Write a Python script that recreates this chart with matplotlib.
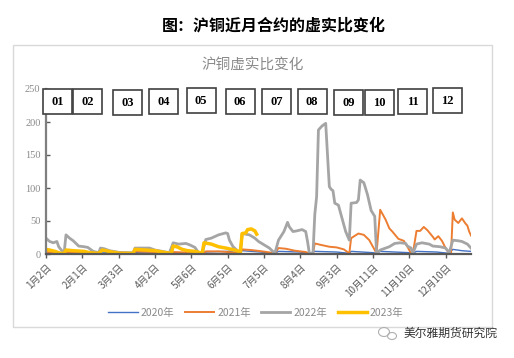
import matplotlib.pyplot as plt
from matplotlib.patches import Rectangle, Ellipse

plt.rcParams['font.family'] = ['Noto Sans CJK SC', 'DejaVu Sans']

# trading-day index (0 = 1月2日) and values
days_2020 = [0, 10, 11, 29, 30, 40, 48, 49, 68, 70, 86, 87, 100, 106, 108, 118, 126, 128,
             140, 145, 148, 160, 167, 168, 180, 182, 184, 200, 202, 204, 215, 222, 224, 229, 234]
vals_2020 = [1, 1, 2, 1, 3, 2, 1, 2, 1, 2, 1, 3, 4, 5, 5, 3, 1, 4,
             3, 1, 4, 3, 1, 4, 2, 1, 4, 2, 1, 4, 3, 1, 7, 5, 4]

days_2021 = [0, 5, 10, 11, 20, 29, 30, 40, 48, 49, 60, 69, 70, 80, 87, 88, 95, 100, 107,
             108, 113, 119, 124, 126, 128, 132, 137, 143, 145, 147, 148, 151, 156, 160, 164,
             166, 167, 168, 172, 175, 178, 180, 182, 184, 187, 189, 191, 194, 197, 199, 201,
             202, 204, 206, 208, 210, 213, 214, 216, 218, 220, 222, 223, 224, 225, 227, 229,
             231, 232, 233, 234]
vals_2021 = [3, 2, 1, 3, 3, 1, 5, 3, 1, 4, 3, 1, 3, 2, 1, 4, 4, 3, 1,
             7, 6, 4, 2, 1, 9, 8, 5, 3, 1, 1, 16, 14, 11, 10, 7,
             3, 1, 24, 31, 29, 21, 11, 1, 67, 52, 39, 33, 23, 20, 11, 1,
             1, 35, 35, 41, 36, 26, 22, 27, 20, 9, 1, 1, 63, 52, 47, 54,
             46, 43, 34, 28]

days_2022 = [0, 2, 4, 6, 7, 9, 10, 11, 13, 15, 18, 21, 23, 25, 26, 29, 30, 32, 35, 37, 41,
             48, 49, 57, 60, 64, 68, 70, 73, 77, 79, 82, 84, 86, 88, 91, 95, 99, 100, 101,
             103, 105, 107, 108, 112, 115, 117, 120, 123, 126, 128, 131, 133, 134, 136, 138,
             141, 143, 144, 145, 147, 148, 149, 150, 152, 154, 156, 157, 158, 159, 161, 162,
             165, 167, 168, 171, 172, 173, 175, 177, 179, 181, 182, 184, 189, 192, 195, 198,
             199, 201, 202, 204, 207, 211, 213, 217, 220, 222, 224, 227, 229, 232, 234]
vals_2022 = [24, 19, 17, 19, 11, 4, 2, 29, 24, 20, 12, 11, 10, 6, 4, 2, 9, 8, 5, 4, 2,
             2, 9, 9, 6, 4, 2, 17, 15, 16, 14, 10, 2, 1, 22, 24, 29, 32, 31, 21,
             11, 6, 1, 31, 29, 24, 19, 14, 9, 1, 21, 34, 48, 41, 34, 35,
             37, 34, 19, 1, 1, 60, 87, 188, 194, 198, 102, 98, 96, 77, 74, 64,
             34, 21, 77, 78, 82, 112, 108, 90, 66, 57, 1, 6, 11, 16, 17, 16,
             12, 9, 1, 15, 17, 15, 12, 11, 9, 2, 21, 20, 19, 15, 9]

days_2023 = [0, 2, 5, 8, 10, 11, 15, 21, 24, 28, 29, 31, 33, 36, 41, 48, 49, 55, 60, 66,
             69, 70, 72, 75, 78, 82, 85, 86, 87, 91, 95, 99, 104, 106, 107, 108, 110, 111,
             113, 115, 116]
vals_2023 = [7, 6, 4, 1, 1, 6, 5, 4, 2, 1, 1, 6, 5, 3, 1, 1, 7, 6, 5, 2,
             1, 12, 11, 7, 5, 4, 2, 1, 17, 15, 11, 9, 6, 4, 3, 31, 32, 37,
             38, 35, 30]

tick_days = [0, 20, 40, 60, 80, 100, 120, 140, 160, 180, 200, 220]
tick_labels = ['1月2日', '2月1日', '3月3日', '4月2日', '5月6日', '6月5日', '7月5日',
               '8月4日', '9月3日', '10月11日', '11月10日', '12月10日']
month_tags = ['01', '02', '03', '04', '05', '06', '07', '08', '09', '10', '11', '12']

fig = plt.figure(figsize=(5.14, 3.58), dpi=100)
W, H = 514, 358

def fx(px):
    return px / W

def fy(py):
    return 1 - py / H

# outer frame of the chart
fig.patches.append(Rectangle((fx(13), fy(327)), fx(492) - fx(13), fy(45) - fy(327),
                             transform=fig.transFigure, fill=False, ec='#d9d9d9', lw=1))

fig.text(fx(274), fy(25), '图：沪铜近月合约的虚实比变化', ha='center', va='center',
         fontsize=11.5, fontweight='bold', color='black')
fig.text(fx(253), fy(66), '沪铜虚实比变化', ha='center', va='center',
         fontsize=10.5, color='#8a8a8a')

ax = fig.add_axes([fx(46), fy(254), fx(471) - fx(46), fy(89) - fy(254)])
ax.plot(days_2020, vals_2020, color='#4472C4', lw=1.0, label='2020年')
ax.plot(days_2021, vals_2021, color='#ED7D31', lw=1.4, label='2021年')
ax.plot(days_2022, vals_2022, color='#A5A5A5', lw=2.0, label='2022年')
ax.plot(days_2023, vals_2023, color='#FFC000', lw=2.5, label='2023年')

ax.set_xlim(0, 234)
ax.set_ylim(0, 250)
ax.set_yticks([0, 50, 100, 150, 200, 250])
ax.set_xticks(tick_days)
ax.set_xticklabels(tick_labels, rotation=45, ha='right', va='top',
                   rotation_mode='anchor', fontsize=7, color='#8a8a8a')
for lab in ax.get_yticklabels():
    lab.set_family(['Liberation Serif'])
ax.tick_params(axis='y', direction='in', length=3, width=1, colors='#595959',
               labelsize=7.5, labelcolor='#8a8a8a', pad=4)
ax.tick_params(axis='x', direction='out', length=3, width=1, colors='#595959', pad=3)
for s in ['top', 'right']:
    ax.spines[s].set_visible(False)
ax.spines['left'].set_color('#7f7f7f')
ax.spines['left'].set_linewidth(1.6)
ax.spines['bottom'].set_color('#595959')
ax.spines['bottom'].set_linewidth(1.6)
ax.patch.set_alpha(0)

leg = fig.legend(loc='center', bbox_to_anchor=(fx(256), fy(313)), ncol=4, frameon=False,
                 fontsize=7.5, handlelength=2.8, columnspacing=1.0, handletextpad=0.3)
for t in leg.get_texts():
    t.set_color('#8a8a8a')

# contract-month tags
tag_cx = [57.5, 87.5, 127.5, 163.5, 201, 240, 276.5, 312, 348.5, 379.5, 412.5, 447.5]
tag_cy = [102, 102, 102.5, 102, 100.5, 102, 102, 102, 102.5, 102.5, 102, 100.5]
for tag, cx, cy in zip(month_tags, tag_cx, tag_cy):
    fig.patches.append(Rectangle((fx(cx - 14.5), fy(cy + 12.5)), 29 / W, 25 / H,
                                 transform=fig.transFigure, fc='white', ec='#404040', lw=1.2))
    fig.text(fx(cx), fy(cy), tag, ha='center', va='center', fontsize=9,
             fontweight='bold', family=['Liberation Serif'], color='black')

# watermark
fig.patches.append(Ellipse((fx(384), fy(332)), 11 / W, 9 / H, transform=fig.transFigure,
                           fill=False, ec='#b0b0b0', lw=0.8))
fig.patches.append(Ellipse((fx(392), fy(336)), 9 / W, 7 / H, transform=fig.transFigure,
                           fill=False, ec='#b0b0b0', lw=0.8))
fig.text(fx(451), fy(333), '美尔雅期货研究院', ha='center', va='center',
         fontsize=8.5, color='#333333')

fig.savefig('out.png', dpi=100)
